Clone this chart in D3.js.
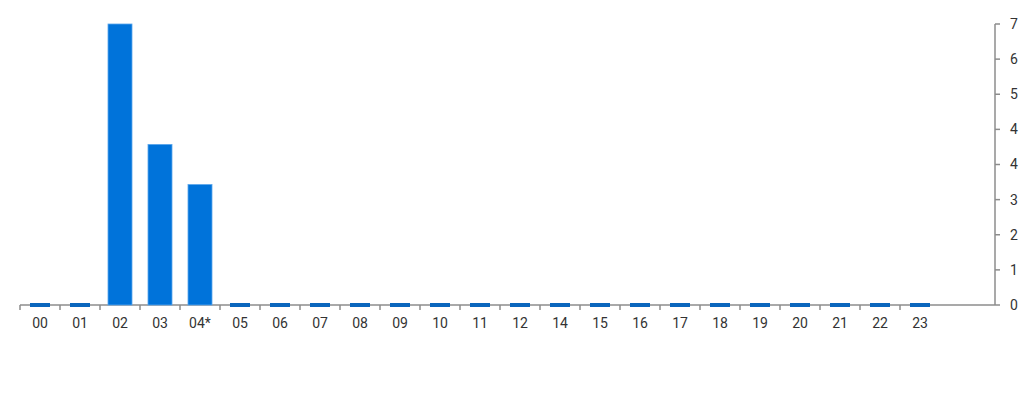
<!DOCTYPE html>
<html>
<head>
<meta charset="utf-8">
<script src="https://cdn.jsdelivr.net/npm/d3@7"></script>
<style>
  body { margin: 0; background: #fff; }
  svg { font-family: Roboto, sans-serif; }
</style>
</head>
<body>
<div id="chart"></div>
<script>
var hours = ['00', '01', '02', '03', '04*', '05', '06', '07', '08', '09', '10', '11', '12',
             '14', '15', '16', '17', '18', '19', '20', '21', '22', '23'];
var counts = [0, 0, 7, 4, 3, 0, 0, 0, 0, 0, 0, 0, 0, 0, 0, 0, 0, 0, 0, 0, 0, 0, 0];
var yTickLabels = ['0', '1', '2', '3', '4', '4', '5', '6', '7'];

var width = 1024, height = 400;
var svg = d3.select('#chart').append('svg').attr('width', width).attr('height', height);

var x = d3.scaleBand().domain(hours).range([20, 940]);
var y = d3.scaleLinear().domain([0, 7]).range([305, 24]);
var yTicks = d3.range(yTickLabels.length).map(function(i) { return 7 * i / (yTickLabels.length - 1); });

// baseline and right axis
svg.append('line').attr('x1', 20).attr('x2', 995).attr('y1', y(0)).attr('y2', y(0))
    .attr('stroke', '#8c8c8c').attr('stroke-width', 1.5);
svg.append('line').attr('x1', 995).attr('x2', 995).attr('y1', y(7)).attr('y2', y(0))
    .attr('stroke', '#8c8c8c').attr('stroke-width', 1.5);

svg.selectAll('line.ytick').data(yTicks).enter().append('line')
    .attr('class', 'ytick')
    .attr('x1', 995).attr('x2', 1000)
    .attr('y1', function(d) { return y(d); }).attr('y2', function(d) { return y(d); })
    .attr('stroke', '#8c8c8c').attr('stroke-width', 1.5);

svg.selectAll('text.ylab').data(yTicks).enter().append('text')
    .attr('class', 'ylab')
    .attr('x', 1010).attr('y', function(d) { return y(d); })
    .attr('dy', '0.35em')
    .attr('font-size', 14).attr('fill', '#333')
    .text(function(d, i) { return yTickLabels[i]; });

// x ticks at band starts
svg.selectAll('line.xtick').data(hours).enter().append('line')
    .attr('class', 'xtick')
    .attr('x1', function(d) { return x(d); }).attr('x2', function(d) { return x(d); })
    .attr('y1', y(0)).attr('y2', y(0) + 5)
    .attr('stroke', '#8c8c8c').attr('stroke-width', 1.5);

svg.selectAll('text.xlab').data(hours).enter().append('text')
    .attr('class', 'xlab')
    .attr('x', function(d) { return x(d) + x.bandwidth() / 2; })
    .attr('y', 328)
    .attr('text-anchor', 'middle')
    .attr('font-size', 14).attr('fill', '#333')
    .text(function(d) { return d; });

// bars
var bw = x.bandwidth() * 0.6;
svg.selectAll('rect.bar').data(counts).enter().append('rect')
    .attr('class', 'bar')
    .attr('x', function(d, i) { return x(hours[i]) + (x.bandwidth() - bw) / 2; })
    .attr('width', bw)
    .attr('y', function(d) { return y(d); })
    .attr('height', function(d) { return y(0) - y(d); })
    .attr('fill', '#0073da')
    .attr('stroke', '#5aa6ec').attr('stroke-width', 0.8)
    .style('display', function(d) { return d > 0 ? null : 'none'; });

// stubs for zero hours
var sw = x.bandwidth() * 0.5;
svg.selectAll('rect.stub').data(hours.filter(function(h, i) { return counts[i] === 0; }))
    .enter().append('rect')
    .attr('class', 'stub')
    .attr('x', function(d) { return x(d) + (x.bandwidth() - sw) / 2; })
    .attr('width', sw)
    .attr('y', y(0) - 2)
    .attr('height', 4)
    .attr('fill', '#0a66bd');
</script>
</body>
</html>
